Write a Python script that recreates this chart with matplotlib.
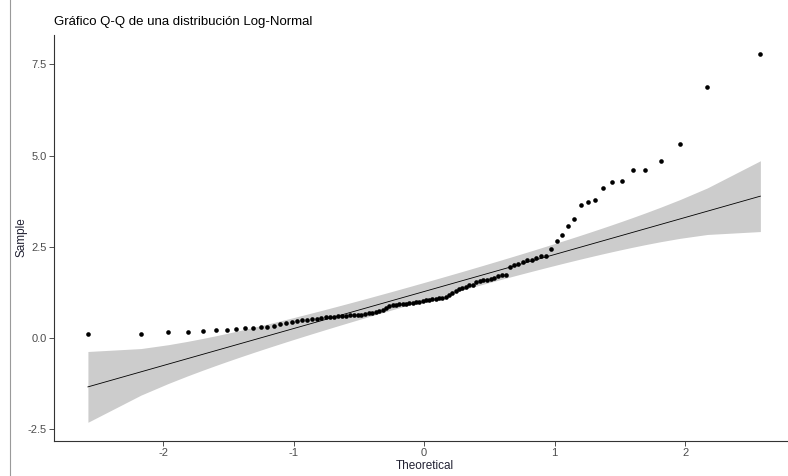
import numpy as np
import matplotlib
matplotlib.use("Agg")
import matplotlib.pyplot as plt
from matplotlib.lines import Line2D
from statistics import NormalDist

# ---- data (sorted sample values, n = 100) ----
sample = [
    0.10, 0.11, 0.15, 0.16, 0.19, 0.21, 0.22, 0.24, 0.27, 0.28,
    0.29, 0.30, 0.32, 0.38, 0.42, 0.45, 0.47, 0.49, 0.50, 0.52,
    0.53, 0.55, 0.56, 0.57, 0.58, 0.59, 0.60, 0.61, 0.62, 0.62,
    0.64, 0.64, 0.65, 0.68, 0.69, 0.71, 0.73, 0.77, 0.81, 0.88,
    0.90, 0.91, 0.92, 0.93, 0.94, 0.95, 0.97, 0.98, 0.99, 1.02,
    1.04, 1.05, 1.06, 1.08, 1.09, 1.10, 1.12, 1.19, 1.24, 1.30,
    1.34, 1.38, 1.41, 1.44, 1.46, 1.52, 1.57, 1.59, 1.59, 1.62,
    1.64, 1.71, 1.73, 1.73, 1.94, 2.01, 2.03, 2.08, 2.13, 2.15,
    2.18, 2.24, 2.26, 2.45, 2.65, 2.82, 3.06, 3.25, 3.65, 3.72,
    3.78, 4.11, 4.28, 4.30, 4.61, 4.61, 4.84, 5.33, 6.88, 7.79,
]
x_ticks = [-2, -1, 0, 1, 2]
y_ticks = [-2.5, 0.0, 2.5, 5.0, 7.5]
y_ticklabels = ["-2.5", "0.0", "2.5", "5.0", "7.5"]
title = "Gráfico Q-Q de una distribución Log-Normal"
x_label = "Theoretical"
y_label = "Sample"

# ---- Q-Q computations (as qqplotr: quartile line + pointwise 95% band) ----
nd = NormalDist()
y = np.sort(np.asarray(sample))
n = len(y)
a = 3 / 8 if n <= 10 else 0.5
p = (np.arange(1, n + 1) - a) / (n + 1 - 2 * a)
z = np.array([nd.inv_cdf(v) for v in p])

q1, q3 = np.quantile(y, [0.25, 0.75])
zq1, zq3 = nd.inv_cdf(0.25), nd.inv_cdf(0.75)
slope = (q3 - q1) / (zq3 - zq1)
intercept = q1 - slope * zq1
fit = intercept + slope * z
dens = np.array([nd.pdf(v) for v in z])
se = slope / dens * np.sqrt(p * (1 - p) / n)
crit = nd.inv_cdf(0.975)
lower = fit - crit * se
upper = fit + crit * se

# ---- figure ----
W, H, DPI = 788, 476, 100
fig = plt.figure(figsize=(W / DPI, H / DPI), dpi=DPI)
fig.patch.set_facecolor("white")

ax_l, ax_r = 54.3, 794.0
ax_t, ax_b = 35.5, 440.7
aw, ah = ax_r - ax_l, ax_b - ax_t
ax = fig.add_axes([ax_l / W, 1 - ax_b / H, aw / W, ah / H])

ax.fill_between(z, lower, upper, color="#cccccc", linewidth=0, zorder=1)
ax.plot(z, fit, color="black", linewidth=0.6, zorder=2)
ax.scatter(z, y, s=11, color="black", linewidths=0, zorder=3)

# ggplot-style 5% expansion
xmin, xmax = z.min(), z.max()
dx = (xmax - xmin) * 0.05
ax.set_xlim(xmin - dx, xmax + dx)
ymin = min(lower.min(), y.min())
ymax = max(upper.max(), y.max())
dy = (ymax - ymin) * 0.05
ax.set_ylim(ymin - dy, ymax + dy)

ax.set_xticks(x_ticks)
ax.set_xticklabels([str(t) for t in x_ticks])
ax.set_yticks(y_ticks)
ax.set_yticklabels(y_ticklabels)

for s in ["top", "right"]:
    ax.spines[s].set_visible(False)
for s in ["left", "bottom"]:
    ax.spines[s].set_color("#333333")
    ax.spines[s].set_linewidth(0.8)

ax.tick_params(axis="both", length=3.5, width=0.6, color="#333333",
               labelsize=8, labelcolor="#4d4d4d", pad=2)
for lab in ax.get_xticklabels() + ax.get_yticklabels():
    lab.set_family(["Liberation Sans", "DejaVu Sans"])

ax.set_xlabel(x_label, fontsize=8.5, color="#222233",
              family=["Liberation Sans", "DejaVu Sans"])
ax.set_ylabel(y_label, fontsize=8.5, color="#222233",
              family=["Liberation Sans", "DejaVu Sans"])
ax.xaxis.set_label_coords((425 - ax_l) / aw, -(465.7 - ax_b) / ah)
ax.xaxis.label.set_va("center")
ax.yaxis.set_label_coords(-(ax_l - 22) / aw, (ax_b - 237) / ah)
ax.yaxis.label.set_va("center")

fig.text(54 / W, 1 - 22.5 / H, title, fontsize=9.5, color="black",
         family=["Liberation Sans", "DejaVu Sans"], ha="left", va="center")

# thin border line at the left edge of the screenshot
fig.add_artist(Line2D([10 / W, 10 / W], [0, 1], transform=fig.transFigure,
                      color="#9a9a9a", linewidth=0.8))

fig.savefig("out.png", dpi=DPI, facecolor="white")
